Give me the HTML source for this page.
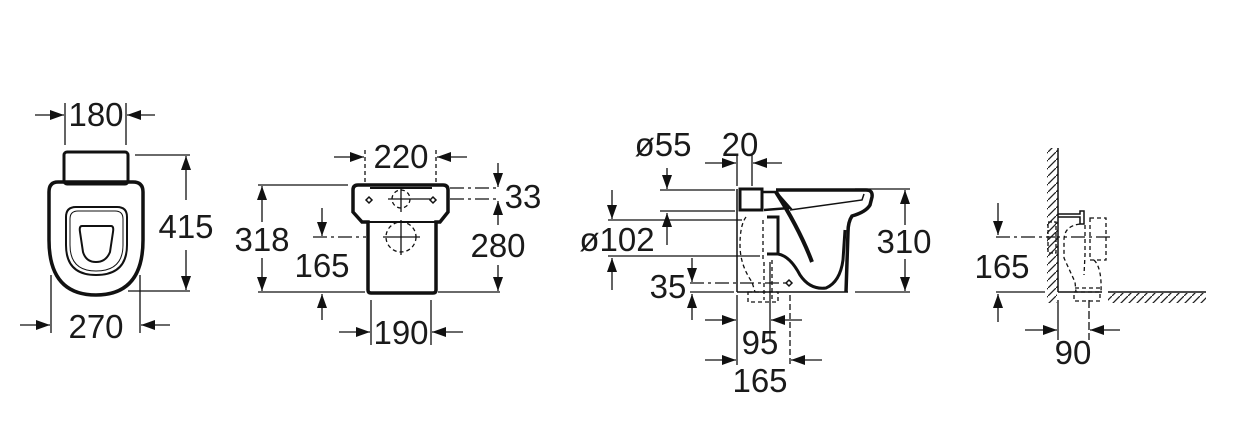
<!DOCTYPE html>
<html><head><meta charset="utf-8"><style>
html,body{margin:0;padding:0;background:#fff;}
svg{display:block}
text{font-family:"Liberation Sans",sans-serif;font-size:33px;fill:#1a1a1a;}
</style></head><body>
<svg width="1239" height="446" viewBox="0 0 1239 446" xmlns="http://www.w3.org/2000/svg">
<defs>
<marker id="a" viewBox="0 0 14 10" refX="14" refY="5" markerWidth="14" markerHeight="10" markerUnits="userSpaceOnUse" orient="auto"><path d="M0,0 L14,5 L0,10 z" fill="#111"/></marker>
<pattern id="h" width="8" height="8" patternUnits="userSpaceOnUse"><path d="M0,8 L8,0" stroke="#222" stroke-width="1.3"/></pattern>
</defs>
<g fill="none" stroke="#111" stroke-width="1.3">
<!-- VIEW 1 -->
<rect x="64" y="152" width="64" height="32" rx="3" stroke-width="3"/>
<path d="M58,182 L133,182 Q143,182 143,192 L143,240 Q143,295 96,295 Q49,295 49,240 L49,192 Q49,182 58,182 Z" stroke-width="3.5"/>
<path d="M76,207 L117,207 Q127,207 127,217 L127,245 Q127,275 96,275 Q66,275 66,245 L66,217 Q66,207 76,207 Z" stroke-width="2"/>
<path d="M78,211 L115,211 Q123,211 123,219 L123,245 Q123,271 96,271 Q70,271 70,245 L70,219 Q70,211 78,211 Z" stroke-width="1"/>
<path d="M82,226 L111,226 Q114,226 113,232 L110,252 Q106,262 96,262 Q86,262 83,252 L80,232 Q79,226 82,226 Z" stroke-width="2"/>
<line x1="65" y1="103" x2="65" y2="145"/><line x1="126" y1="103" x2="126" y2="145"/>
<line x1="35" y1="115" x2="64" y2="115" marker-end="url(#a)"/><line x1="155" y1="115" x2="127" y2="115" marker-end="url(#a)"/>
<line x1="135" y1="155" x2="190" y2="155"/><line x1="128" y1="291" x2="190" y2="291"/>
<line x1="186" y1="200" x2="186" y2="156" marker-end="url(#a)"/><line x1="186" y1="250" x2="186" y2="290" marker-end="url(#a)"/>
<line x1="51" y1="275" x2="51" y2="333"/><line x1="140" y1="275" x2="140" y2="333"/>
<line x1="20" y1="325" x2="50" y2="325" marker-end="url(#a)"/><line x1="170" y1="325" x2="141" y2="325" marker-end="url(#a)"/>
<!-- VIEW 2 -->
<path d="M358,185 L443,185 Q448,185 448,190 L448,212 L440,222 L436,222 L436,290 Q436,293 433,293 L371,293 Q368,293 368,290 L368,222 L362,222 L353,212 L353,190 Q353,185 358,185 Z" stroke-width="3.5"/>
<line x1="370" y1="188" x2="432" y2="188" stroke-width="2"/>
<line x1="362" y1="222" x2="440" y2="222" stroke-width="2"/>
<path d="M366,200 l3,-3 l3,3 l-3,3 z M430,200 l3,-3 l3,3 l-3,3 z" stroke-width="1.5"/>
<circle cx="401" cy="199" r="9" stroke-dasharray="4,3"/><line x1="388" y1="199" x2="430" y2="199"/><line x1="401" y1="188" x2="401" y2="212"/>
<circle cx="401" cy="237" r="15" stroke-dasharray="4,3"/><line x1="383" y1="237" x2="420" y2="237"/><line x1="401" y1="220" x2="401" y2="255"/>
<line x1="365" y1="150" x2="365" y2="185" stroke-dasharray="4,3"/><line x1="436" y1="150" x2="436" y2="185" stroke-dasharray="4,3"/>
<line x1="334" y1="157" x2="364" y2="157" marker-end="url(#a)"/><line x1="467" y1="157" x2="437" y2="157" marker-end="url(#a)"/>
<line x1="258" y1="185" x2="348" y2="185"/><line x1="258" y1="292" x2="365" y2="292"/>
<line x1="262" y1="222" x2="262" y2="186" marker-end="url(#a)"/><line x1="262" y1="258" x2="262" y2="291" marker-end="url(#a)"/>
<line x1="322" y1="208" x2="322" y2="236" marker-end="url(#a)"/><line x1="322" y1="320" x2="322" y2="294" marker-end="url(#a)"/>
<line x1="313" y1="237" x2="366" y2="237" stroke-dasharray="14,4,3,4"/>
<line x1="450" y1="188" x2="500" y2="188" stroke-dasharray="14,4,3,4"/><line x1="450" y1="199" x2="500" y2="199" stroke-dasharray="14,4,3,4"/>
<line x1="498" y1="163" x2="498" y2="187" marker-end="url(#a)"/><line x1="498" y1="225" x2="498" y2="201" marker-end="url(#a)"/>
<line x1="498" y1="265" x2="498" y2="291" marker-end="url(#a)"/>
<line x1="438" y1="292" x2="500" y2="292"/>
<line x1="371" y1="300" x2="371" y2="345"/><line x1="431" y1="300" x2="431" y2="345"/>
<line x1="339" y1="332" x2="370" y2="332" marker-end="url(#a)"/><line x1="463" y1="332" x2="432" y2="332" marker-end="url(#a)"/>
<!-- VIEW 3 -->
<line x1="737" y1="189" x2="737" y2="292" stroke-width="1.5"/>
<line x1="737" y1="292" x2="848" y2="292" stroke-width="1.5"/>
<rect x="740" y="189" width="22" height="21" stroke-width="3"/>
<path d="M762,192 L776,192 L790,208 L764,210" stroke-width="2.5"/>
<path d="M776,190 L866,190 Q873,190 872,197 L870,205 Q866,212 852,216 Q848,222 848,232 L846,292" stroke-width="3.5"/>
<path d="M790,210 L862,200 L864,194" stroke-width="1.5"/>
<path d="M776,192 Q800,230 812,262" stroke-width="4"/>
<path d="M767,217 L778,217 L778,254 L767,254" stroke-width="3"/>
<path d="M778,254 Q790,256 800,275 Q810,290 826,288 Q840,282 843,260 L845,230" stroke-width="3"/>
<path d="M746,217 Q740,225 740,245 Q740,265 752,282 L755,292" stroke-dasharray="4,3"/>
<path d="M763,220 L763,260 M772,260 L772,300 M764,262 L764,300" stroke-dasharray="4,3"/>
<rect x="748" y="292" width="30" height="10" stroke-dasharray="4,3"/>
<path d="M786,283 l3,-3 l3,3 l-3,3 z" stroke-width="1.5"/>
<line x1="737" y1="155" x2="737" y2="186"/><line x1="752" y1="155" x2="752" y2="186"/>
<line x1="705" y1="163" x2="736" y2="163" marker-end="url(#a)"/><line x1="782" y1="163" x2="753" y2="163" marker-end="url(#a)"/>
<line x1="660" y1="190" x2="735" y2="190"/><line x1="660" y1="211" x2="735" y2="211"/>
<line x1="667" y1="168" x2="667" y2="189" marker-end="url(#a)"/><line x1="667" y1="245" x2="667" y2="213" marker-end="url(#a)"/>
<line x1="608" y1="220" x2="742" y2="220"/><line x1="608" y1="256" x2="760" y2="256"/>
<line x1="612" y1="190" x2="612" y2="219" marker-end="url(#a)"/><line x1="612" y1="290" x2="612" y2="258" marker-end="url(#a)"/>
<line x1="690" y1="283" x2="790" y2="283" stroke-dasharray="14,4,3,4"/><line x1="690" y1="292" x2="734" y2="292"/>
<line x1="692" y1="258" x2="692" y2="282" marker-end="url(#a)"/><line x1="692" y1="320" x2="692" y2="294" marker-end="url(#a)"/>
<line x1="737" y1="295" x2="737" y2="365"/><line x1="770" y1="262" x2="770" y2="340"/><line x1="790" y1="295" x2="790" y2="365" stroke-dasharray="6,3"/>
<line x1="705" y1="320" x2="736" y2="320" marker-end="url(#a)"/><line x1="802" y1="320" x2="771" y2="320" marker-end="url(#a)"/>
<line x1="705" y1="360" x2="736" y2="360" marker-end="url(#a)"/><line x1="822" y1="360" x2="791" y2="360" marker-end="url(#a)"/>
<line x1="855" y1="189" x2="910" y2="189"/><line x1="855" y1="292" x2="910" y2="292"/>
<line x1="905" y1="225" x2="905" y2="190" marker-end="url(#a)"/><line x1="905" y1="258" x2="905" y2="291" marker-end="url(#a)"/>
<!-- VIEW 4 -->
<rect x="1047" y="148" width="11" height="145" fill="url(#h)" stroke="none"/>
<rect x="1047" y="293" width="10" height="10" fill="url(#h)" stroke="none"/>
<rect x="1108" y="293" width="98" height="10" fill="url(#h)" stroke="none"/>
<line x1="1058" y1="148" x2="1058" y2="292" stroke-width="1.5"/>
<line x1="1058" y1="292" x2="1102" y2="292" stroke-width="1.5"/><line x1="1108" y1="292" x2="1206" y2="292" stroke-width="1.5"/>
<path d="M1058,214 L1080,214 L1080,211 L1084,211 L1084,224 L1080,224 L1080,217 L1058,217" stroke-width="1.5"/>
<rect x="1048" y="222" width="8" height="31" stroke-dasharray="4,2"/>
<path d="M1080,224 Q1064,226 1064,240 L1064,258 L1075,282 L1076,292" stroke-dasharray="4,3"/>
<rect x="1090" y="218" width="16" height="42" stroke-dasharray="4,3"/>
<path d="M1085,225 L1085,255 L1084,275 M1094,260 Q1102,268 1101,292" stroke-dasharray="4,3"/>
<rect x="1074" y="292" width="26" height="9" stroke-dasharray="4,3"/>
<line x1="1075" y1="288" x2="1100" y2="288" stroke-dasharray="4,3"/>
<line x1="998" y1="203" x2="998" y2="235" marker-end="url(#a)"/><line x1="998" y1="322" x2="998" y2="294" marker-end="url(#a)"/>
<line x1="996" y1="237" x2="1110" y2="237" stroke-dasharray="14,4,3,4"/><line x1="996" y1="292" x2="1045" y2="292"/>
<line x1="1058" y1="300" x2="1058" y2="340"/><line x1="1089" y1="300" x2="1089" y2="340" stroke-dasharray="8,3"/>
<line x1="1025" y1="330" x2="1057" y2="330" marker-end="url(#a)"/><line x1="1120" y1="330" x2="1090" y2="330" marker-end="url(#a)"/>
</g>
<g>
<text x="96" y="126" text-anchor="middle">180</text>
<rect x="160" y="208" width="52" height="38" fill="#fff"/>
<text x="186" y="238" text-anchor="middle">415</text>
<text x="96" y="338" text-anchor="middle">270</text>
<text x="401" y="168" text-anchor="middle">220</text>
<rect x="234" y="222" width="56" height="36" fill="#fff"/>
<text x="262" y="251" text-anchor="middle">318</text>
<text x="322" y="277" text-anchor="middle">165</text>
<text x="523" y="208" text-anchor="middle">33</text>
<rect x="470" y="225" width="56" height="40" fill="#fff"/>
<text x="498" y="257" text-anchor="middle">280</text>
<text x="401" y="344" text-anchor="middle">190</text>
<text x="663" y="156" text-anchor="middle">ø55</text>
<text x="740" y="156" text-anchor="middle">20</text>
<text x="617" y="251" text-anchor="middle">ø102</text>
<text x="668" y="298" text-anchor="middle">35</text>
<text x="760" y="354" text-anchor="middle">95</text>
<text x="760" y="392" text-anchor="middle">165</text>
<rect x="877" y="225" width="56" height="34" fill="#fff"/>
<text x="904" y="253" text-anchor="middle">310</text>
<text x="1002" y="278" text-anchor="middle">165</text>
<text x="1073" y="364" text-anchor="middle">90</text>
</g>
</svg>
</body></html>
